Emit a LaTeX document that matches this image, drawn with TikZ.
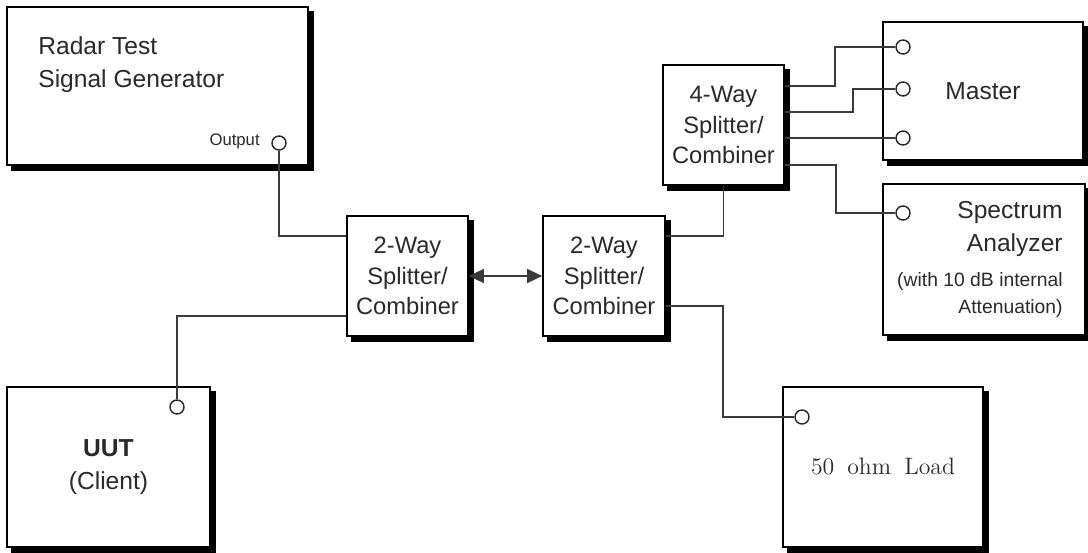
\documentclass[tikz,border=0pt]{standalone}
\usepackage{fontspec}
\setsansfont{Liberation Sans}
\usetikzlibrary{backgrounds,arrows.meta}
\definecolor{InkGray}{HTML}{2A2A2A}
\definecolor{WireGray}{HTML}{3A3A3A}

\tikzset{
  unit/.style={draw=black, line width=1pt, fill=white, inner sep=0pt},
  port/.style={circle, draw=black!85, line width=0.8pt, fill=white,
    minimum size=0.28cm, inner sep=0pt},
  wire/.style={draw=WireGray, line width=0.9pt},
  txt/.style={text=InkGray, font=\sffamily\fontsize{14}{18.7}\selectfont},
  splittxt/.style={text=InkGray, align=center,
    font=\sffamily\fontsize{13.5}{17.5}\selectfont},
}

\begin{document}
\begin{tikzpicture}[x=0.02cm, y=-0.02cm]
  \useasboundingbox (0,0) rectangle (1088,552);

  % left side: generator and client
  \node[unit, minimum width=6.02cm, minimum height=3.16cm] (gen) at (157.5,86) {};
  \node[txt, align=left, anchor=north west, inner sep=0pt] (genlbl) at (38,36)
    {Radar Test\\Signal Generator};
  \node[port] (genout) at (279,143) {};
  \node[text=InkGray, font=\sffamily\fontsize{9.5}{11}\selectfont,
    anchor=east, inner sep=0pt] (outlbl) at (260,141) {Output};

  \node[unit, txt, align=center, minimum width=4.06cm, minimum height=3.2cm]
    (uut) at (108.5,467) {\textbf{UUT}\\(Client)};
  \node[port] (uutin) at (177,407) {};

  % splitters
  \node[unit, splittxt, minimum width=2.42cm, minimum height=2.4cm]
    (splitA) at (407.5,276) {2-Way\\Splitter/\\Combiner};
  \node[unit, splittxt, minimum width=2.44cm, minimum height=2.4cm]
    (splitB) at (604,276) {2-Way\\Splitter/\\Combiner};
  \node[unit, splittxt, minimum width=2.42cm, minimum height=2.4cm]
    (split4) at (723.5,125) {4-Way\\Splitter/\\Combiner};

  % right side: master, analyzer, load
  \node[unit, txt, minimum width=4.0cm, minimum height=2.76cm]
    (master) at (983,91) {Master};
  \node[port] (m1) at (903,47) {};
  \node[port] (m2) at (903,89) {};
  \node[port] (m3) at (903,138) {};

  \node[unit, minimum width=4.04cm, minimum height=3.02cm] (spec) at (984,259.5) {};
  \node[txt, align=right, anchor=north east, inner sep=0pt] (spectitle) at (1063,201)
    {Spectrum\\Analyzer};
  \node[text=InkGray, font=\sffamily\fontsize{11}{15.5}\selectfont,
    align=right, anchor=north east, inner sep=0pt] (specnote) at (1063,272)
    {(with 10 dB internal\\Attenuation)};
  \node[port] (specin) at (903,213) {};

  \node[unit, minimum width=4.0cm, minimum height=3.2cm, text=InkGray,
    font=\rmfamily\fontsize{13.5}{16}\selectfont] (load) at (883,467)
    {50\hspace{0.55em}ohm\hspace{0.55em}Load};
  \node[port] (loadin) at (802,417) {};

  % drop shadows
  \begin{scope}[on background layer]
    \foreach \b in {gen,uut,splitA,splitB,split4,master,spec,load}
      \fill[black] ([shift={(5,5)}]\b.north west) rectangle ([shift={(5,5)}]\b.south east);
  \end{scope}

  % cabling
  \draw[wire] (genout.south) |- ([yshift=0.8cm]splitA.west);
  \draw[wire] (uutin.north) |- ([yshift=-0.8cm]splitA.west);
  \draw[wire, {Triangle[length=0.3cm,width=0.28cm]}-{Triangle[length=0.3cm,width=0.28cm]}]
    (splitA.east) -- (splitB.west);
  \draw[wire] ([yshift=0.8cm]splitB.east) -| (split4.south);
  \draw[wire] ([yshift=-0.6cm]splitB.east) -- ++(57,0) |- (loadin.west);

  \draw[wire] ([yshift=0.78cm]split4.east) -- ++(50,0) |- (m1.west);
  \draw[wire] ([yshift=0.26cm]split4.east) -- ++(68,0) |- (m2.west);
  \draw[wire] ([yshift=-0.26cm]split4.east) -- (m3.west);
  \draw[wire] ([yshift=-0.8cm]split4.east) -- ++(51,0) |- (specin.west);
\end{tikzpicture}
\end{document}
